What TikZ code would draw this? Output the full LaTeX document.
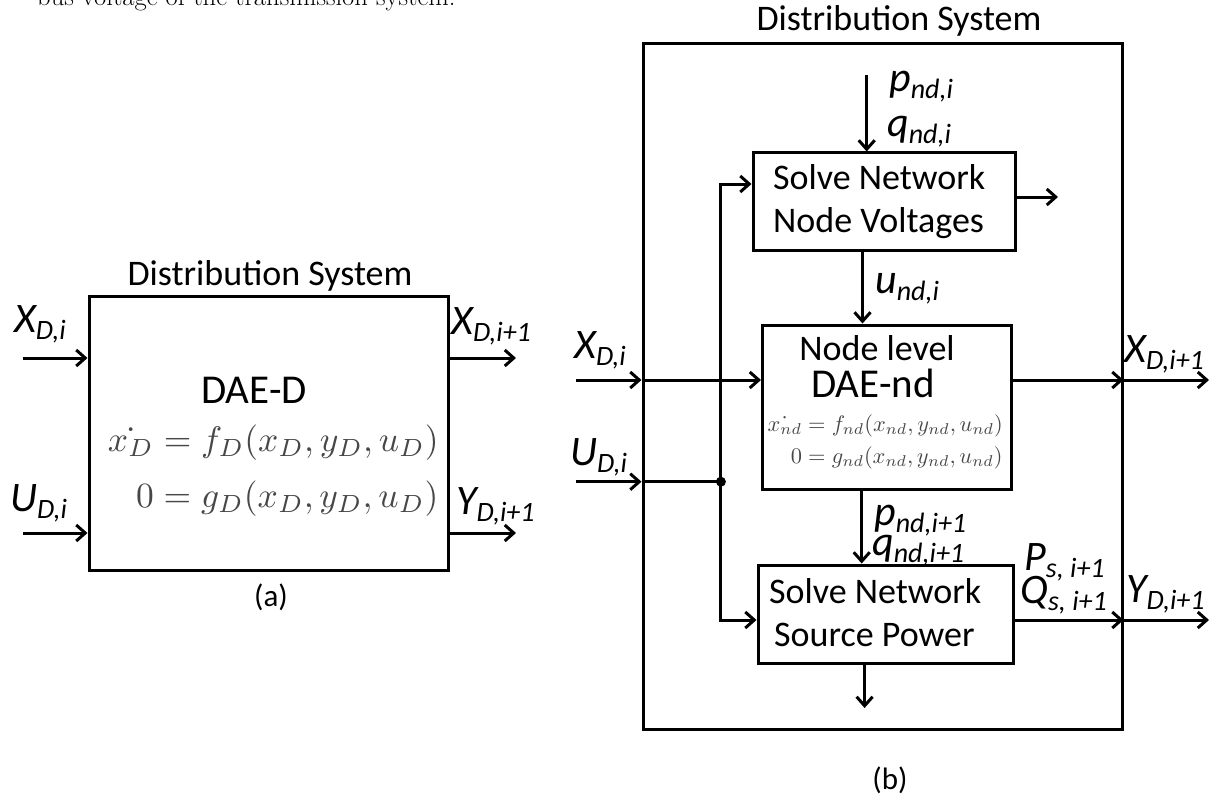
\documentclass[tikz,border=0pt]{standalone}
\usepackage{fontspec}
\usepackage{amsmath}
\usepackage{graphicx}
\setmainfont{Carlito}
\newfontfamily\lmroman{Latin Modern Roman}
\usetikzlibrary{arrows.meta,calc}

% italic variable with a lowered, smaller index, as in the block labels
\newcommand\sig[2]{{\itshape\fontsize{42}{46}\selectfont #1\raisebox{-7pt}{\fontsize{28}{31}\selectfont #2}}}

\tikzset{
  blk/.style={draw, line width=3pt, inner sep=0pt},
  arr/.style={line width=3pt, -{Straight Barb[length=9pt,width=16pt,line width=3pt]}},
  wire/.style={line width=3pt},
  lbl/.style={anchor=base west, inner sep=0pt},
  ttl/.style={anchor=base, inner sep=0pt, font=\fontsize{36}{40}\selectfont},
  boxtxt/.style={anchor=base west, inner sep=0pt, font=\fontsize{36}{40}\selectfont},
  eqn/.style={anchor=east, inner sep=0pt, text=black!72},
}

\begin{document}
\begin{tikzpicture}[x=1pt, y=-1pt]
\useasboundingbox (0,0) rectangle (1218,797);

% running text line above the figure
\node[anchor=base west, inner sep=0pt, font=\lmroman\fontsize{26.6}{29}\selectfont] (prev) at (37,6) {bus voltage of the transmission system.};

% ---------------- (a) lumped distribution system ----------------
\node[blk, minimum width=359pt, minimum height=274pt] (A) at (268.5,433) {};
\node[ttl] (Attl) at (270,285) {Distribution System};
\node[anchor=base, inner sep=0pt, font=\fontsize{41}{44}\selectfont] (Adae) at (254,403) {DAE-D};
\node[eqn] (Aeq) at (439,471) {\scalebox{3.55}{$\begin{aligned}\dot{x_D} &= f_D(x_D,y_D,u_D)\\[0.8pt] 0 &= g_D(x_D,y_D,u_D)\end{aligned}$}};
\node[anchor=center, inner sep=0pt, font=\fontsize{31}{34}\selectfont] (Acap) at (271,597) {(a)};

\coordinate (aXin) at (23,358);
\coordinate (aUin) at (23,533);
\coordinate (aXout) at (516,358);
\coordinate (aYout) at (516,533);
\draw[arr] (aXin) -- (aXin -| A.west);
\draw[arr] (aUin) -- (aUin -| A.west);
\draw[arr] (aXout -| A.east) -- (aXout);
\draw[arr] (aYout -| A.east) -- (aYout);

\node[lbl] (aXl) at (14,332) {\sig{X}{D,i}};
\node[lbl] (aUl) at (10,511) {\sig{U}{D,i}};
\node[lbl] (aXol) at (451,334) {\sig{X}{D,i+1}};
\node[lbl] (aYol) at (456,514) {\sig{Y}{D,i+1}};

% ---------------- (b) node-level distribution system ----------------
\node[blk, minimum width=479pt, minimum height=685pt] (O) at (882.5,386.5) {};
\node[ttl] (Ottl) at (899,31) {Distribution System};

\node[blk, minimum width=262pt, minimum height=97pt] (T) at (884,201.5) {};
\node[blk, minimum width=248.5pt, minimum height=164pt] (M) at (886.75,407) {};
\node[blk, minimum width=255pt, minimum height=98pt] (B) at (885.5,614) {};

\node[boxtxt] (T1) at (773,189) {Solve Network};
\node[boxtxt] (T2) at (773,232) {Node Voltages};
\node[anchor=base, inner sep=0pt, font=\fontsize{36}{40}\selectfont] (M1) at (877,360) {Node level};
\node[anchor=base, inner sep=0pt, font=\fontsize{41}{44}\selectfont] (M2) at (873,397) {DAE-nd};
\node[eqn] (Meq) at (1003,442) {\scalebox{2.24}{$\begin{aligned}\dot{x_{nd}} &= f_{nd}(x_{nd},y_{nd},u_{nd})\\[-0.7pt] 0 &= g_{nd}(x_{nd},y_{nd},u_{nd})\end{aligned}$}};
\node[boxtxt] (B1) at (769,603) {Solve Network};
\node[boxtxt] (B2) at (774,646) {Source Power};

\node[anchor=center, inner sep=0pt, font=\fontsize{31}{34}\selectfont] (Bcap) at (890,780) {(b)};

% feeder points and bus line
\coordinate (pqin) at (866.7,75);
\coordinate (tout) at (1058,197);
\coordinate (uxa) at (862.5,0);
\coordinate (pxa) at (861.7,0);
\coordinate (bxa) at (864.6,708);
\coordinate (bus) at (720.9,0);
\coordinate (bXin) at (576,380);
\coordinate (bUin) at (576,481.7);
\coordinate (bXout) at (1209,380);
\coordinate (bYout) at (1209,620);
\coordinate (vtop) at (720.9,184);
\coordinate (vbot) at (720.9,620);
\coordinate (jdot) at (bUin -| bus);

\draw[arr] (pqin) -- (pqin |- T.north);
\draw[arr] (tout -| T.east) -- (tout);
\draw[arr] (T.south -| uxa) -- (M.north -| uxa);
\draw[arr] (M.south -| pxa) -- (B.north -| pxa);
\draw[arr] (B.south -| bxa) -- (bxa);

\draw[arr] (bXin) -- (bXin -| O.west);
\draw[arr] (bXin -| O.west) -- (bXin -| M.west);
\draw[arr] (bUin) -- (bUin -| O.west);
\draw[wire] (bUin -| O.west) -- (jdot);
\fill (jdot) circle (5pt);
\draw[arr] (jdot) -- (vtop) -- (vtop -| T.west);
\draw[arr] (jdot) -- (vbot) -- (vbot -| B.west);

\draw[arr] (bXout -| M.east) -- (bXout -| O.east);
\draw[arr] (bXout -| O.east) -- (bXout);
\draw[arr] (bYout -| B.east) -- (bYout -| O.east);
\draw[arr] (bYout -| O.east) -- (bYout);

\node[lbl] (pl) at (889,92) {\sig{p}{nd,i}};
\node[lbl] (ql) at (887,137) {\sig{q}{nd,i}};
\node[lbl] (ul) at (875,293) {\sig{u}{nd,i}};
\node[lbl] (bXl) at (574,358) {\sig{X}{D,i}};
\node[lbl] (bUl) at (570,465) {\sig{U}{D,i}};
\node[lbl] (p2l) at (874,525) {\sig{p}{nd,i+1}};
\node[lbl] (q2l) at (872,555) {\sig{q}{nd,i+1}};
\node[lbl] (Pl) at (1024,570) {\sig{P}{s, i+1}};
\node[lbl] (Ql) at (1020,603) {\sig{Q}{s, i+1}};
\node[lbl] (bXol) at (1124,362) {\sig{X}{D,i+1}};
\node[lbl] (bYol) at (1126,602) {\sig{Y}{D,i+1}};
\end{tikzpicture}
\end{document}
